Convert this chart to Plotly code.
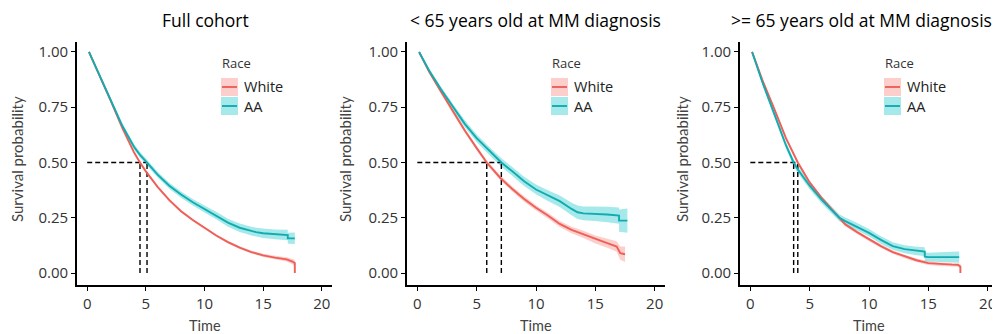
import plotly.graph_objects as go

# ---------------- data ----------------
titles = ["Full cohort", "< 65 years old at MM diagnosis", ">= 65 years old at MM diagnosis"]
series_names = ["White", "AA"]

# Panel 1: Full cohort
p1_white_t = [0.15, 1, 2, 3, 4, 4.5, 5, 6, 7, 8, 9, 10, 11, 12, 13, 14, 15, 16, 17, 17.5, 17.7, 17.7]
p1_white_s = [1.0, 0.90, 0.78, 0.655, 0.545, 0.50, 0.46, 0.39, 0.33, 0.28, 0.24, 0.205, 0.17, 0.14, 0.115, 0.095, 0.08, 0.07, 0.062, 0.052, 0.045, 0.0]
p1_white_w = [0.0, 0.004, 0.005, 0.006, 0.006, 0.006, 0.006, 0.006, 0.006, 0.006, 0.006, 0.006, 0.006, 0.006, 0.006, 0.006, 0.007, 0.008, 0.01, 0.012, 0.015, 0.0]
p1_aa_t = [0.15, 1, 2, 3, 4, 4.5, 5.1, 6, 7, 8, 9, 10, 11, 12, 13, 14, 14.4, 15, 16, 17.1, 17.1, 17.7]
p1_aa_s = [1.0, 0.90, 0.785, 0.665, 0.57, 0.535, 0.50, 0.445, 0.395, 0.355, 0.32, 0.29, 0.26, 0.228, 0.205, 0.19, 0.185, 0.18, 0.175, 0.172, 0.157, 0.157]
p1_aa_w = [0.0, 0.008, 0.01, 0.012, 0.012, 0.013, 0.013, 0.013, 0.014, 0.014, 0.015, 0.016, 0.017, 0.018, 0.019, 0.02, 0.02, 0.021, 0.022, 0.024, 0.025, 0.026]

# Panel 2: < 65 years
p2_white_t = [0.15, 1, 2, 3, 4, 5, 5.85, 7, 8, 9, 10, 11, 12, 13, 14, 15, 16, 16.8, 17.1, 17.5]
p2_white_s = [1.0, 0.91, 0.82, 0.73, 0.645, 0.565, 0.50, 0.43, 0.38, 0.335, 0.295, 0.26, 0.222, 0.195, 0.175, 0.152, 0.135, 0.12, 0.09, 0.085]
p2_white_w = [0.0, 0.006, 0.008, 0.009, 0.01, 0.01, 0.01, 0.011, 0.011, 0.012, 0.012, 0.013, 0.014, 0.015, 0.016, 0.018, 0.02, 0.024, 0.03, 0.035]
p2_aa_t = [0.15, 1, 2, 3, 4, 5, 6, 7.08, 8, 9, 10, 11, 12, 13, 13.5, 14, 15, 16, 17.0, 17.0, 17.7]
p2_aa_s = [1.0, 0.915, 0.83, 0.75, 0.675, 0.61, 0.555, 0.50, 0.46, 0.415, 0.378, 0.35, 0.325, 0.29, 0.275, 0.27, 0.268, 0.265, 0.26, 0.237, 0.237]
p2_aa_w = [0.0, 0.01, 0.013, 0.015, 0.016, 0.017, 0.018, 0.019, 0.02, 0.021, 0.022, 0.024, 0.026, 0.028, 0.03, 0.031, 0.033, 0.035, 0.037, 0.05, 0.055]

# Panel 3: >= 65 years
p3_white_t = [0.15, 1, 2, 3, 4.0, 5, 6, 7, 7.5, 8, 9, 10, 11, 12, 13, 14, 15, 16, 17, 17.5, 17.7, 17.7]
p3_white_s = [1.0, 0.875, 0.745, 0.61, 0.50, 0.41, 0.34, 0.28, 0.25, 0.22, 0.185, 0.152, 0.122, 0.095, 0.075, 0.058, 0.045, 0.04, 0.038, 0.037, 0.03, 0.0]
p3_white_w = [0.0, 0.005, 0.007, 0.008, 0.008, 0.008, 0.008, 0.008, 0.008, 0.008, 0.008, 0.008, 0.008, 0.008, 0.008, 0.008, 0.008, 0.008, 0.008, 0.009, 0.01, 0.0]
p3_aa_t = [0.15, 1, 2, 3, 3.65, 4, 5, 6, 7, 7.5, 8, 9, 10, 11, 12, 13, 14, 14.7, 14.7, 15, 16, 17, 17.6]
p3_aa_s = [1.0, 0.865, 0.722, 0.578, 0.50, 0.468, 0.395, 0.332, 0.277, 0.25, 0.235, 0.21, 0.182, 0.15, 0.122, 0.108, 0.10, 0.097, 0.074, 0.072, 0.072, 0.072, 0.072]
p3_aa_w = [0.0, 0.01, 0.013, 0.015, 0.016, 0.016, 0.016, 0.016, 0.016, 0.016, 0.016, 0.016, 0.017, 0.017, 0.017, 0.018, 0.019, 0.02, 0.02, 0.02, 0.022, 0.024, 0.025]

# median survival times (White, AA) per panel
medians = [[4.5, 5.1], [5.85, 7.08], [4.0, 3.65]]

x_ticks = [0, 5, 10, 15, 20]
y_ticks = [0.0, 0.25, 0.5, 0.75, 1.0]
y_tick_text = ["0.00", "0.25", "0.50", "0.75", "1.00"]

panels = [
    [(p1_white_t, p1_white_s, p1_white_w), (p1_aa_t, p1_aa_s, p1_aa_w)],
    [(p2_white_t, p2_white_s, p2_white_w), (p2_aa_t, p2_aa_s, p2_aa_w)],
    [(p3_white_t, p3_white_s, p3_white_w), (p3_aa_t, p3_aa_s, p3_aa_w)],
]

# ---------------- style ----------------
# the page body has an 8px default margin, so the figure is sized to fit the window
OFF = 8
FW, FH = 1000 - OFF, 334 - OFF


def px(x):
    return (x - OFF) / FW


def py(y):
    return 1 - (y - OFF) / FH


line_colors = ["#EE5F57", "#12ABB0"]
fill_colors = ["rgba(248,118,109,0.35)", "rgba(0,191,196,0.35)"]
FONT = "'Open Sans', Lato, sans-serif"
LAB_FONT = "Lato, 'Open Sans', sans-serif"
TICK_COLOR = "#333333"
DASH = dict(color="black", width=1.4, dash="5px,3px")

# panel pixel geometry (page pixels): left, right of x-axis line; top, bottom of plot area
panel_px = [(77, 332), (407, 665), (740, 998)]
title_cx = [205, 535, 861]
ylab_cx = [17, 345, 682]
top_px, bot_px = 42, 285
x_range = [-0.87, 20.87]
y_range = [-0.054, 1.045]

fig = go.Figure()

for i, panel in enumerate(panels):
    xa = "x" if i == 0 else f"x{i+1}"
    ya = "y" if i == 0 else f"y{i+1}"
    # confidence ribbons
    for j, (t, s, w) in enumerate(panel):
        hi = [min(1.0, a + b) for a, b in zip(s, w)]
        lo = [max(0.0, a - b) for a, b in zip(s, w)]
        fig.add_trace(go.Scatter(
            x=list(t) + list(t)[::-1], y=hi + lo[::-1],
            fill="toself", fillcolor=fill_colors[j], mode="none",
            line=dict(width=0), hoverinfo="skip", showlegend=False,
            xaxis=xa, yaxis=ya))
    # median lines
    m = medians[i]
    fig.add_trace(go.Scatter(
        x=[0, max(m)], y=[0.5, 0.5], mode="lines", line=DASH,
        showlegend=False, hoverinfo="skip", xaxis=xa, yaxis=ya))
    for mv in m:
        fig.add_trace(go.Scatter(
            x=[mv, mv], y=[0, 0.5], mode="lines", line=DASH,
            showlegend=False, hoverinfo="skip", xaxis=xa, yaxis=ya))
    # survival curves
    for j, (t, s, w) in enumerate(panel):
        fig.add_trace(go.Scatter(
            x=t, y=s, mode="lines", name=series_names[j],
            line=dict(color=line_colors[j], width=1.9),
            showlegend=False, xaxis=xa, yaxis=ya))

layout = dict(
    width=FW, height=FH,
    margin=dict(l=0, r=0, t=0, b=0, autoexpand=False),
    paper_bgcolor="white", plot_bgcolor="white",
    font=dict(family=FONT, color="black"),
    showlegend=False,
)

axis_common = dict(
    showgrid=False, zeroline=False, showline=True, linecolor="black", linewidth=1.6,
    ticks="outside", ticklen=4, tickwidth=1.3, tickcolor="black", automargin=False,
    tickfont=dict(family=FONT, size=15, color=TICK_COLOR),
)

annotations = []
shapes = []
yd = [py(bot_px), py(top_px)]
for i, (l, r) in enumerate(panel_px):
    sx = "" if i == 0 else str(i + 1)
    layout[f"xaxis{sx}"] = dict(axis_common, domain=[px(l), min(1.0, px(r))], range=x_range,
                                tickvals=x_ticks, anchor=f"y{sx}")
    layout[f"yaxis{sx}"] = dict(axis_common, domain=yd, range=y_range,
                                tickvals=y_ticks, ticktext=y_tick_text, anchor=f"x{sx}")
    # panel title
    annotations.append(dict(text=titles[i], x=px(title_cx[i]), y=py(20), xref="paper", yref="paper",
                            showarrow=False, xanchor="center", yanchor="middle",
                            font=dict(family=FONT, size=17.5, color="black")))
    # axis titles
    annotations.append(dict(text="Time", x=px((l + r) / 2), y=py(325), xref="paper", yref="paper",
                            showarrow=False, xanchor="center", yanchor="middle",
                            font=dict(family=LAB_FONT, size=14.5, color="#444444")))
    annotations.append(dict(text="Survival probability", x=px(ylab_cx[i]), y=py(159),
                            xref="paper", yref="paper", textangle=-90,
                            showarrow=False, xanchor="center", yanchor="middle",
                            font=dict(family=LAB_FONT, size=15, color="#444444")))
    # legend (drawn manually, ggplot-style)
    lx = l + 144
    annotations.append(dict(text="Race", x=px(lx - 1), y=py(63), xref="paper", yref="paper",
                            showarrow=False, xanchor="left", yanchor="middle",
                            font=dict(family=FONT, size=13, color="#333333")))
    for j, cy in enumerate([87, 106]):
        shapes.append(dict(type="rect", xref="paper", yref="paper",
                           x0=px(lx), x1=px(lx + 17), y0=py(cy - 9), y1=py(cy + 9),
                           fillcolor=fill_colors[j], line=dict(width=0), layer="below"))
        shapes.append(dict(type="line", xref="paper", yref="paper",
                           x0=px(lx + 1), x1=px(lx + 16), y0=py(cy), y1=py(cy),
                           line=dict(color=line_colors[j], width=1.9)))
        annotations.append(dict(text=series_names[j], x=px(lx + 21), y=py(cy), xref="paper", yref="paper",
                                showarrow=False, xanchor="left", yanchor="middle",
                                font=dict(family=FONT, size=14.5, color="#222222")))

layout["annotations"] = annotations
layout["shapes"] = shapes
fig.update_layout(**layout)

fig.write_html("out.html")
